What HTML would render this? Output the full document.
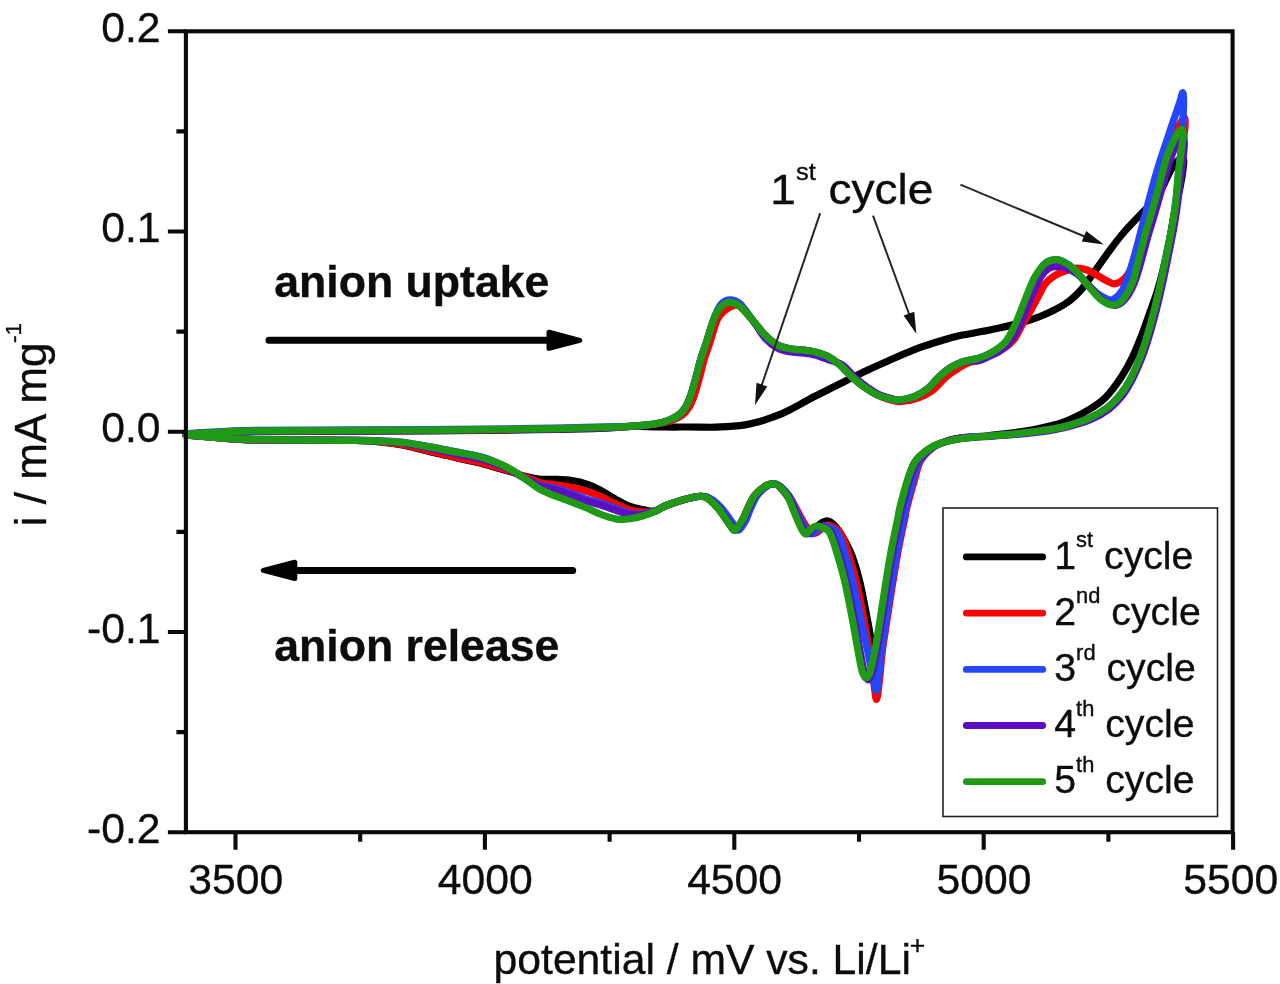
<!DOCTYPE html>
<html lang="en"><head><meta charset="utf-8"><title>Cyclic voltammogram</title>
<style>html,body{margin:0;padding:0;background:#fff}body{width:1280px;height:984px;overflow:hidden}svg{display:block}text{font-family:"Liberation Sans",sans-serif;fill:#0c0c0c;stroke:#0c0c0c;stroke-width:.35px}</style></head><body>
<svg width="1280" height="984" viewBox="0 0 1280 984">
<rect width="1280" height="984" fill="#fff"/>
<g fill="none" stroke-width="7.2" stroke-linejoin="round" stroke-linecap="round">
<path stroke="#000000" d="M186.0 435.3C188.3 435.1 194.3 434.4 200.0 434.0C205.7 433.6 210.8 433.4 220.0 433.0C229.2 432.6 232.5 432.0 255.0 431.7C277.5 431.4 325.8 431.3 355.0 431.2C384.2 431.1 409.2 431.0 430.0 430.9C450.8 430.8 459.2 430.7 480.0 430.4C500.8 430.2 534.2 429.8 555.0 429.4C575.8 429.0 592.5 428.7 605.0 428.2C617.5 427.7 624.2 426.6 630.0 426.3C635.8 426.0 634.2 426.4 640.0 426.5C645.8 426.6 656.7 426.9 665.0 427.0C673.3 427.1 681.7 427.0 690.0 427.0C698.3 427.0 706.7 427.4 715.0 427.2C723.3 427.0 733.8 426.2 740.0 425.6C746.2 425.0 748.3 424.3 752.5 423.3C756.7 422.3 760.4 421.3 765.0 419.8C769.6 418.3 775.8 416.1 780.0 414.4C784.2 412.7 784.2 412.8 790.0 409.8C795.8 406.8 806.7 400.6 815.0 396.3C823.3 392.0 831.7 388.0 840.0 383.8C848.3 379.6 856.7 375.3 865.0 371.3C873.3 367.3 881.7 363.7 890.0 360.0C898.3 356.3 906.7 352.5 915.0 349.3C923.3 346.1 932.5 343.3 940.0 341.0C947.5 338.7 951.7 337.3 960.0 335.5C968.3 333.7 980.8 331.9 990.0 330.0C999.2 328.1 1006.7 326.6 1015.0 324.3C1023.3 322.1 1031.7 319.9 1040.0 316.5C1048.3 313.1 1058.3 308.2 1065.0 304.0C1071.7 299.8 1075.0 296.5 1080.0 291.0C1085.0 285.5 1090.0 277.8 1095.0 271.0C1100.0 264.2 1105.0 256.7 1110.0 250.0C1115.0 243.3 1120.0 236.8 1125.0 231.0C1130.0 225.2 1136.2 218.9 1140.0 215.0C1143.8 211.1 1145.2 210.0 1147.5 207.5C1149.8 205.0 1151.9 202.6 1154.0 200.0C1156.1 197.4 1158.0 195.3 1160.0 192.0C1162.0 188.7 1164.0 184.0 1166.0 180.0C1168.0 176.0 1170.0 171.2 1172.0 168.0C1174.0 164.8 1176.2 162.1 1178.0 160.5C1179.8 158.9 1182.1 157.8 1183.0 158.5C1183.9 159.2 1183.9 160.6 1183.5 165.0C1183.1 169.4 1181.9 177.5 1180.5 185.0C1179.1 192.5 1176.8 200.8 1175.0 210.0C1173.2 219.2 1171.5 230.0 1169.5 240.0C1167.5 250.0 1165.1 261.3 1163.0 270.0C1160.9 278.7 1159.2 285.0 1157.0 292.0C1154.8 299.0 1152.4 305.2 1150.0 312.0C1147.6 318.8 1145.4 325.5 1142.5 333.0C1139.6 340.5 1135.9 349.8 1132.5 357.0C1129.1 364.2 1126.4 369.3 1122.0 376.0C1117.6 382.7 1111.3 391.5 1106.0 397.0C1100.7 402.5 1096.8 404.9 1090.0 409.0C1083.2 413.1 1073.3 418.3 1065.0 421.5C1056.7 424.7 1048.3 426.4 1040.0 428.3C1031.7 430.2 1023.3 431.4 1015.0 432.6C1006.7 433.8 999.2 434.5 990.0 435.5C980.8 436.5 968.3 437.5 960.0 438.8C951.7 440.1 945.4 441.6 940.0 443.5C934.6 445.4 931.7 446.9 927.5 450.0C923.3 453.1 918.2 457.0 915.0 462.0C911.8 467.0 910.1 472.5 908.0 480.0C905.9 487.5 903.8 500.3 902.5 507.0C901.2 513.7 901.8 512.8 900.5 520.0C899.2 527.2 896.9 538.8 895.0 550.0C893.1 561.2 890.8 575.8 889.0 587.5C887.2 599.2 885.8 609.6 884.5 620.0C883.2 630.4 882.2 642.7 881.0 650.0C879.8 657.3 878.8 664.0 877.5 664.0C876.2 664.0 874.7 657.3 873.0 650.0C871.3 642.7 869.7 631.2 867.5 620.0C865.3 608.8 862.5 593.0 860.0 582.5C857.5 572.0 855.0 563.9 852.5 557.0C850.0 550.1 847.8 546.0 845.0 541.0C842.2 536.0 838.8 530.3 836.0 527.0C833.2 523.7 830.7 521.5 828.0 521.0C825.3 520.5 822.5 522.3 820.0 524.0C817.5 525.7 815.0 530.2 813.0 531.0C811.0 531.8 810.2 531.2 808.0 529.0C805.8 526.8 803.0 522.8 800.0 518.0C797.0 513.2 793.3 505.2 790.0 500.0C786.7 494.8 782.5 489.7 780.0 487.0C777.5 484.3 777.1 484.3 775.0 484.0C772.9 483.7 770.8 483.2 767.5 485.0C764.2 486.8 758.4 490.8 755.0 495.0C751.6 499.2 749.1 505.8 747.0 510.0C744.9 514.2 744.5 516.7 742.5 520.0C740.5 523.3 737.1 529.2 735.0 530.0C732.9 530.8 732.9 528.8 730.0 525.0C727.1 521.2 721.7 512.2 717.5 507.5C713.3 502.8 709.2 498.7 705.0 497.0C700.8 495.3 698.8 496.2 692.5 497.5C686.2 498.8 673.8 502.8 667.5 505.0C661.2 507.2 659.2 510.2 655.0 511.0C650.8 511.8 646.7 510.2 642.5 509.5C638.3 508.8 634.1 508.0 630.0 506.5C625.9 505.0 623.0 503.2 618.0 500.5C613.0 497.8 605.1 492.7 600.0 490.0C594.9 487.3 592.2 485.9 587.5 484.3C582.8 482.7 577.2 481.3 572.0 480.5C566.8 479.7 561.2 479.5 556.0 479.3C550.8 479.1 545.8 479.8 540.6 479.3C535.4 478.8 530.2 477.6 525.0 476.3C519.8 475.0 514.6 472.8 509.4 471.3C504.2 469.7 498.7 468.4 493.8 467.0C488.9 465.6 485.2 464.2 480.0 462.9C474.8 461.7 468.0 460.5 462.5 459.3C457.0 458.1 452.4 456.8 447.0 455.6C441.6 454.3 437.0 453.4 430.0 451.7C423.0 450.0 413.3 447.0 405.0 445.4C396.7 443.8 388.3 442.7 380.0 441.9C371.7 441.1 375.8 440.9 355.0 440.5C334.2 440.2 277.5 440.4 255.0 439.9C232.5 439.5 231.5 438.7 220.0 437.9C208.5 437.1 191.7 435.5 186.0 435.0"/>
<path stroke="#fe0000" d="M186.0 434.8C188.3 434.6 194.3 433.9 200.0 433.5C205.7 433.1 210.8 432.9 220.0 432.5C229.2 432.1 232.5 431.5 255.0 431.2C277.5 430.9 325.8 430.8 355.0 430.7C384.2 430.6 409.2 430.5 430.0 430.4C450.8 430.3 459.2 430.2 480.0 429.9C500.8 429.7 534.2 429.3 555.0 428.9C575.8 428.5 592.5 428.1 605.0 427.7C617.5 427.3 623.1 426.7 630.0 426.3C636.9 425.9 641.4 425.7 646.4 425.2C651.3 424.7 655.3 424.3 659.4 423.5C663.6 422.7 667.7 421.8 671.4 420.5C675.1 419.2 678.7 417.6 681.6 415.5C684.5 413.4 686.5 411.2 688.6 408.0C690.7 404.8 692.4 400.8 694.1 396.0C695.9 391.2 697.4 385.0 699.1 379.0C700.8 373.0 702.3 366.2 704.1 360.0C705.9 353.8 707.9 348.7 710.1 342.0C712.3 335.3 714.8 325.2 717.1 320.0C719.4 314.8 721.4 313.4 724.1 311.0C726.8 308.6 730.4 306.6 733.1 305.8C735.8 305.0 736.9 303.9 740.1 306.3C743.3 308.7 748.4 315.2 752.5 320.0C756.6 324.8 760.8 330.8 765.0 335.0C769.2 339.2 773.3 342.7 777.5 345.0C781.7 347.3 785.8 348.0 790.0 348.8C794.2 349.6 798.3 349.5 802.5 350.0C806.7 350.5 810.8 350.9 815.0 352.0C819.2 353.1 823.3 354.1 827.5 356.3C831.7 358.5 835.8 361.5 840.0 365.0C844.2 368.5 848.3 373.8 852.5 377.5C856.7 381.2 860.8 384.6 865.0 387.5C869.2 390.4 873.3 392.9 877.5 395.0C881.7 397.1 886.0 398.7 890.0 399.8C894.0 400.9 896.6 401.8 901.4 401.5C906.1 401.2 913.2 399.7 918.4 397.8C923.7 395.9 928.1 393.7 932.7 390.3C937.2 386.9 941.8 380.8 945.5 377.5C949.2 374.2 951.2 372.9 955.0 370.5C958.8 368.1 963.8 364.8 968.0 363.0C972.2 361.2 976.0 360.9 980.0 359.5C984.0 358.1 988.0 356.2 992.0 354.3C996.0 352.4 1000.3 350.8 1004.0 348.3C1007.7 345.9 1011.0 343.4 1014.0 339.6C1017.0 335.8 1019.2 330.1 1022.0 325.3C1024.8 320.5 1027.8 315.7 1030.5 311.0C1033.2 306.3 1035.5 301.6 1038.0 297.0C1040.5 292.4 1042.7 287.1 1045.5 283.5C1048.3 279.9 1051.6 277.7 1055.0 275.5C1058.4 273.3 1062.3 271.8 1066.0 270.5C1069.7 269.2 1073.5 268.1 1077.0 268.0C1080.5 267.9 1084.0 269.0 1087.0 270.0C1090.0 271.0 1091.7 272.2 1095.0 274.0C1098.3 275.8 1103.7 279.4 1107.0 281.0C1110.3 282.6 1112.0 284.3 1115.0 283.8C1118.0 283.3 1122.0 281.1 1125.0 278.0C1128.0 274.9 1130.6 270.5 1133.0 265.0C1135.4 259.5 1137.3 252.2 1139.5 245.0C1141.7 237.8 1143.8 230.3 1146.0 222.0C1148.2 213.7 1150.5 204.2 1153.0 195.0C1155.5 185.8 1158.1 176.0 1161.0 167.0C1163.9 158.0 1167.4 148.1 1170.5 141.0C1173.6 133.9 1177.2 128.4 1179.5 124.5C1181.8 120.6 1183.4 117.5 1184.3 117.8C1185.2 118.0 1185.3 121.1 1185.0 126.0C1184.7 130.9 1183.6 139.0 1182.6 147.0C1181.6 155.0 1180.0 165.0 1179.0 173.8C1178.0 182.6 1177.5 191.6 1176.5 200.0C1175.5 208.4 1174.4 215.7 1173.0 224.0C1171.6 232.3 1169.9 240.7 1168.0 250.0C1166.1 259.3 1163.9 270.4 1161.8 280.0C1159.7 289.6 1157.8 298.3 1155.5 307.5C1153.2 316.7 1150.5 326.7 1148.0 335.0C1145.5 343.3 1143.4 350.0 1140.5 357.5C1137.6 365.0 1133.8 373.8 1130.5 380.0C1127.2 386.2 1124.2 390.4 1120.5 395.0C1116.8 399.6 1113.1 403.7 1108.0 407.5C1102.9 411.3 1097.2 414.8 1090.0 418.0C1082.8 421.2 1073.3 424.3 1065.0 426.5C1056.7 428.7 1048.3 429.8 1040.0 431.0C1031.7 432.2 1023.3 433.2 1015.0 434.0C1006.7 434.8 999.2 435.3 990.0 436.0C980.8 436.7 968.3 436.8 960.0 438.0C951.7 439.2 945.0 441.5 940.0 443.5C935.0 445.5 933.3 446.9 930.0 450.0C926.7 453.1 922.6 457.0 920.0 462.0C917.4 467.0 916.7 472.5 914.5 480.0C912.3 487.5 908.7 500.3 907.0 507.0C905.3 513.7 906.0 512.8 904.5 520.0C903.0 527.2 900.4 538.8 898.3 550.0C896.2 561.2 893.9 575.8 892.0 587.5C890.1 599.2 888.6 609.6 887.0 620.0C885.4 630.4 883.8 640.0 882.5 650.0C881.2 660.0 880.5 671.8 879.5 680.0C878.5 688.2 877.5 699.5 876.5 699.5C875.5 699.5 874.6 687.4 873.5 680.0C872.4 672.6 871.6 665.0 870.0 655.0C868.4 645.0 866.2 632.1 864.0 620.0C861.8 607.9 859.0 593.3 856.5 582.5C854.0 571.7 851.2 562.4 849.0 555.0C846.8 547.6 844.8 542.2 843.0 538.0C841.2 533.8 840.7 532.2 838.0 530.0C835.3 527.8 830.0 525.0 827.0 525.0C824.0 525.0 822.2 528.6 820.0 530.0C817.8 531.4 816.3 534.2 814.0 533.5C811.7 532.8 809.0 530.2 806.0 526.0C803.0 521.8 798.8 513.0 796.0 508.0C793.2 503.0 791.7 499.5 789.0 496.0C786.3 492.5 782.3 489.0 780.0 487.0C777.7 485.0 777.1 484.3 775.0 484.0C772.9 483.7 770.8 483.2 767.5 485.0C764.2 486.8 758.4 490.8 755.0 495.0C751.6 499.2 749.1 505.8 747.0 510.0C744.9 514.2 744.4 516.7 742.5 520.0C740.6 523.3 737.5 529.2 735.5 530.0C733.5 530.8 733.5 528.8 730.5 525.0C727.5 521.2 721.8 512.2 717.5 507.5C713.2 502.8 709.2 498.7 705.0 497.0C700.8 495.3 698.8 496.2 692.5 497.5C686.2 498.8 673.8 502.8 667.5 505.0C661.2 507.2 659.2 509.8 655.0 511.0C650.8 512.2 646.7 512.2 642.5 512.0C638.3 511.8 634.1 511.2 630.0 510.0C625.9 508.8 623.0 507.3 618.0 505.0C613.0 502.7 605.1 498.6 600.0 496.3C594.9 494.1 592.2 493.0 587.5 491.5C582.8 490.0 577.2 488.6 572.0 487.5C566.8 486.4 561.2 485.6 556.0 484.8C550.8 484.0 545.8 484.0 540.6 482.7C535.4 481.4 530.2 478.8 525.0 476.8C519.8 474.8 514.6 472.4 509.4 470.7C504.2 469.0 498.7 467.8 493.8 466.4C488.9 465.0 485.2 463.7 480.0 462.4C474.8 461.1 468.0 460.0 462.5 458.7C457.0 457.5 452.4 456.3 447.0 455.0C441.6 453.7 437.0 452.8 430.0 451.1C423.0 449.5 413.3 446.5 405.0 445.0C396.7 443.4 388.3 442.5 380.0 441.8C371.7 441.0 375.8 440.9 355.0 440.5C334.2 440.2 277.5 440.4 255.0 439.9C232.5 439.5 231.5 438.7 220.0 437.9C208.5 437.1 191.7 435.5 186.0 435.0"/>
<path stroke="#2346ff" d="M186.0 434.0C188.3 433.8 194.3 433.1 200.0 432.7C205.7 432.3 210.8 432.1 220.0 431.7C229.2 431.3 232.5 430.7 255.0 430.4C277.5 430.1 325.8 430.0 355.0 429.9C384.2 429.8 409.2 429.7 430.0 429.6C450.8 429.5 459.2 429.4 480.0 429.1C500.8 428.9 534.2 428.5 555.0 428.1C575.8 427.7 592.5 427.2 605.0 426.9C617.5 426.6 623.3 426.6 630.0 426.3C636.7 426.0 640.5 425.7 645.0 425.2C649.5 424.7 653.2 424.3 657.0 423.5C660.8 422.7 664.5 421.8 668.0 420.5C671.5 419.2 675.2 417.6 678.0 415.5C680.8 413.4 682.9 411.2 685.0 408.0C687.1 404.8 688.8 400.8 690.5 396.0C692.2 391.2 693.8 385.0 695.5 379.0C697.2 373.0 698.7 366.2 700.5 360.0C702.3 353.8 704.3 348.7 706.5 342.0C708.7 335.3 711.2 326.2 713.5 320.0C715.8 313.8 717.8 308.4 720.5 305.0C723.2 301.6 726.2 300.0 729.5 299.8C732.8 299.6 736.2 300.4 740.0 303.8C743.8 307.2 748.3 314.8 752.5 320.0C756.7 325.2 760.8 330.8 765.0 335.0C769.2 339.2 773.3 342.7 777.5 345.0C781.7 347.3 785.8 348.0 790.0 348.8C794.2 349.6 798.3 349.5 802.5 350.0C806.7 350.5 810.8 350.9 815.0 352.0C819.2 353.1 823.3 354.1 827.5 356.3C831.7 358.5 835.8 361.5 840.0 365.0C844.2 368.5 848.3 373.8 852.5 377.5C856.7 381.2 860.8 384.6 865.0 387.5C869.2 390.4 873.3 393.1 877.5 395.0C881.7 396.9 886.2 398.0 890.0 398.8C893.8 399.6 895.8 400.4 900.0 400.0C904.2 399.6 910.4 398.2 915.0 396.3C919.6 394.4 923.3 392.2 927.5 388.8C931.7 385.4 935.8 379.7 940.0 376.0C944.2 372.3 948.3 368.9 952.5 366.5C956.7 364.1 960.8 362.6 965.0 361.3C969.2 360.0 973.3 359.8 977.5 358.5C981.7 357.2 985.1 356.2 990.0 353.5C994.9 350.8 1002.5 347.2 1007.0 342.5C1011.5 337.8 1013.7 332.1 1017.0 325.0C1020.3 317.9 1023.8 307.9 1027.0 300.0C1030.2 292.1 1033.8 283.3 1036.5 277.5C1039.2 271.7 1040.8 267.9 1043.5 265.0C1046.2 262.1 1049.3 260.6 1052.5 260.0C1055.7 259.4 1058.8 259.6 1062.5 261.3C1066.2 263.0 1070.8 266.1 1075.0 270.0C1079.2 273.9 1083.7 281.0 1087.5 285.0C1091.3 289.0 1094.6 291.6 1098.0 294.0C1101.4 296.4 1105.3 298.7 1108.0 299.5C1110.7 300.3 1111.6 300.6 1114.0 299.0C1116.4 297.4 1119.9 294.5 1122.5 290.0C1125.1 285.5 1127.2 278.7 1129.5 272.0C1131.8 265.3 1133.8 257.8 1136.0 250.0C1138.2 242.2 1140.3 233.3 1142.5 225.0C1144.7 216.7 1146.8 208.2 1149.0 200.0C1151.2 191.8 1153.2 184.0 1155.5 176.0C1157.8 168.0 1160.2 160.5 1163.0 152.0C1165.8 143.5 1169.2 133.4 1172.0 125.0C1174.8 116.6 1178.2 106.9 1180.0 101.5C1181.8 96.1 1181.9 93.0 1182.5 92.8C1183.1 92.5 1183.5 95.5 1183.6 100.0C1183.7 104.5 1183.3 112.5 1183.0 120.0C1182.7 127.5 1182.4 136.0 1181.6 145.0C1180.8 154.0 1179.3 164.6 1178.4 173.8C1177.5 183.0 1177.0 191.6 1176.0 200.0C1175.0 208.4 1173.9 215.7 1172.5 224.0C1171.1 232.3 1169.4 240.7 1167.5 250.0C1165.6 259.3 1163.4 270.4 1161.3 280.0C1159.2 289.6 1157.3 298.3 1155.0 307.5C1152.7 316.7 1150.0 326.7 1147.5 335.0C1145.0 343.3 1142.9 350.0 1140.0 357.5C1137.1 365.0 1133.3 373.8 1130.0 380.0C1126.7 386.2 1123.8 390.4 1120.0 395.0C1116.2 399.6 1112.5 403.7 1107.5 407.5C1102.5 411.3 1097.1 414.8 1090.0 418.0C1082.9 421.2 1073.3 424.3 1065.0 426.5C1056.7 428.7 1048.3 429.8 1040.0 431.0C1031.7 432.2 1023.3 433.2 1015.0 434.0C1006.7 434.8 999.2 435.3 990.0 436.0C980.8 436.7 968.3 436.8 960.0 438.0C951.7 439.2 945.1 441.5 940.0 443.5C934.9 445.5 933.0 446.9 929.5 450.0C926.0 453.1 921.8 457.0 919.0 462.0C916.2 467.0 915.2 472.5 913.0 480.0C910.8 487.5 907.6 500.3 906.0 507.0C904.4 513.7 905.0 512.8 903.5 520.0C902.0 527.2 899.4 538.8 897.3 550.0C895.2 561.2 892.9 575.8 891.0 587.5C889.1 599.2 887.6 609.6 886.0 620.0C884.4 630.4 882.8 640.3 881.5 650.0C880.2 659.7 879.4 671.2 878.5 678.0C877.6 684.8 877.2 690.5 876.3 690.5C875.4 690.5 874.3 683.9 873.0 678.0C871.7 672.1 870.5 664.7 868.5 655.0C866.5 645.3 863.6 632.1 861.0 620.0C858.4 607.9 855.6 593.3 853.0 582.5C850.4 571.7 847.7 562.4 845.5 555.0C843.3 547.6 841.8 542.2 840.0 538.0C838.2 533.8 837.8 532.0 835.0 530.0C832.2 528.0 826.0 526.0 823.0 526.0C820.0 526.0 819.0 528.7 817.0 530.0C815.0 531.3 813.2 534.5 811.0 533.8C808.8 533.1 806.7 530.3 804.0 526.0C801.3 521.7 797.5 513.0 795.0 508.0C792.5 503.0 791.3 499.5 789.0 496.0C786.7 492.5 783.2 489.0 781.0 487.0C778.8 485.0 778.0 484.3 776.0 484.0C774.0 483.7 772.1 483.2 769.0 485.0C765.9 486.8 760.7 490.8 757.5 495.0C754.3 499.2 751.9 505.8 750.0 510.0C748.1 514.2 747.8 516.7 746.0 520.0C744.2 523.3 741.0 529.2 739.0 530.0C737.0 530.8 737.0 528.8 734.0 525.0C731.0 521.2 725.5 512.2 721.0 507.5C716.5 502.8 711.7 498.7 707.0 497.0C702.3 495.3 699.6 496.2 693.0 497.5C686.4 498.8 673.8 502.7 667.5 505.0C661.2 507.3 659.2 509.7 655.0 511.2C650.8 512.7 646.7 513.6 642.5 514.0C638.3 514.4 634.1 514.2 630.0 513.5C625.9 512.8 623.0 511.2 618.0 509.5C613.0 507.8 605.1 504.7 600.0 503.0C594.9 501.3 592.2 501.0 587.5 499.5C582.8 498.0 577.2 495.6 572.0 493.8C566.8 492.0 561.2 489.9 556.0 488.5C550.8 487.1 545.8 487.1 540.6 485.5C535.4 483.9 530.2 481.4 525.0 478.6C519.8 475.8 514.6 471.7 509.4 468.8C504.2 465.9 498.7 463.3 493.8 461.3C488.9 459.3 486.5 458.2 480.0 456.6C473.5 455.0 463.3 453.2 455.0 451.6C446.7 450.0 438.3 448.3 430.0 446.8C421.7 445.3 413.3 443.5 405.0 442.5C396.7 441.5 388.3 441.3 380.0 440.9C371.7 440.5 375.8 440.3 355.0 440.1C334.2 439.8 277.5 439.8 255.0 439.4C232.5 439.0 231.5 438.3 220.0 437.5C208.5 436.7 191.7 435.2 186.0 434.7"/>
<path stroke="#5b0ec2" d="M186.0 434.9C188.3 434.7 194.3 434.0 200.0 433.6C205.7 433.2 210.8 433.0 220.0 432.6C229.2 432.2 232.5 431.6 255.0 431.3C277.5 431.0 325.8 430.9 355.0 430.8C384.2 430.7 409.2 430.6 430.0 430.5C450.8 430.4 459.2 430.2 480.0 430.0C500.8 429.8 534.2 429.4 555.0 429.0C575.8 428.6 592.5 428.2 605.0 427.8C617.5 427.3 623.3 426.7 630.0 426.3C636.7 425.9 640.5 425.7 645.0 425.2C649.5 424.7 653.2 424.3 657.0 423.5C660.8 422.7 664.5 421.8 668.0 420.5C671.5 419.2 675.2 417.6 678.0 415.5C680.8 413.4 682.9 411.2 685.0 408.0C687.1 404.8 688.8 400.8 690.5 396.0C692.2 391.2 693.8 385.0 695.5 379.0C697.2 373.0 698.7 366.2 700.5 360.0C702.3 353.8 704.3 348.7 706.5 342.0C708.7 335.3 711.2 325.8 713.5 320.0C715.8 314.2 717.8 310.4 720.5 307.5C723.2 304.6 726.2 302.5 729.5 302.3C732.8 302.1 736.2 303.4 740.0 306.3C743.8 309.2 748.3 314.7 752.5 320.0C756.7 325.3 760.8 333.3 765.0 338.0C769.2 342.7 773.3 345.7 777.5 348.0C781.7 350.3 785.8 351.0 790.0 351.8C794.2 352.6 798.3 352.5 802.5 353.0C806.7 353.5 810.8 353.9 815.0 355.0C819.2 356.1 822.9 357.6 827.5 359.3C832.1 361.0 837.9 362.0 842.5 365.0C847.1 368.0 850.8 373.8 855.0 377.5C859.2 381.2 863.3 384.6 867.5 387.5C871.7 390.4 875.8 393.1 880.0 395.0C884.2 396.9 888.8 398.0 892.5 398.8C896.2 399.6 898.8 400.4 902.5 400.0C906.2 399.6 910.8 398.2 915.0 396.3C919.2 394.4 923.3 392.2 927.5 388.8C931.7 385.4 935.8 379.7 940.0 376.0C944.2 372.3 948.3 368.9 952.5 366.5C956.7 364.1 960.8 362.2 965.0 361.3C969.2 360.4 973.3 361.9 977.5 361.0C981.7 360.1 986.2 357.7 990.0 356.0C993.8 354.3 996.8 353.2 1000.0 351.0C1003.2 348.8 1006.2 346.8 1009.5 342.5C1012.8 338.2 1016.6 332.1 1020.0 325.0C1023.4 317.9 1026.6 307.9 1030.0 300.0C1033.4 292.1 1037.4 282.8 1040.5 277.5C1043.6 272.2 1045.8 270.3 1048.5 268.5C1051.2 266.7 1054.1 266.6 1057.0 266.5C1059.9 266.4 1062.7 266.8 1066.0 268.0C1069.3 269.2 1073.1 271.0 1077.0 274.0C1080.9 277.0 1085.3 281.8 1089.5 286.0C1093.7 290.2 1097.8 296.3 1102.0 299.5C1106.2 302.7 1110.8 305.2 1114.5 305.3C1118.2 305.4 1121.2 303.8 1124.5 300.0C1127.8 296.2 1131.7 289.2 1134.5 282.5C1137.3 275.8 1139.2 267.9 1141.5 260.0C1143.8 252.1 1146.3 242.0 1148.3 235.0C1150.3 228.0 1151.3 225.5 1153.5 218.0C1155.7 210.5 1158.8 199.7 1161.5 190.0C1164.2 180.3 1167.3 167.8 1170.0 160.0C1172.7 152.2 1175.4 146.8 1177.5 143.0C1179.6 139.2 1181.4 137.2 1182.5 137.0C1183.6 136.8 1184.2 138.2 1184.3 142.0C1184.4 145.8 1183.7 153.7 1183.0 160.0C1182.3 166.3 1181.2 173.3 1180.4 180.0C1179.6 186.7 1179.0 192.7 1178.0 200.0C1177.0 207.3 1175.9 215.7 1174.5 224.0C1173.1 232.3 1171.4 240.7 1169.5 250.0C1167.6 259.3 1165.4 270.4 1163.3 280.0C1161.2 289.6 1159.3 298.3 1157.0 307.5C1154.7 316.7 1152.0 326.7 1149.5 335.0C1147.0 343.3 1144.9 350.0 1142.0 357.5C1139.1 365.0 1135.3 373.6 1132.0 380.0C1128.7 386.4 1125.8 391.2 1122.0 396.0C1118.2 400.8 1114.2 405.1 1109.0 409.0C1103.8 412.9 1098.3 416.4 1091.0 419.5C1083.7 422.6 1073.5 425.4 1065.0 427.5C1056.5 429.6 1048.3 430.8 1040.0 432.0C1031.7 433.2 1023.3 433.8 1015.0 434.5C1006.7 435.2 999.2 435.7 990.0 436.3C980.8 436.9 968.3 436.8 960.0 438.0C951.7 439.2 945.2 441.5 940.0 443.5C934.8 445.5 932.8 446.9 929.0 450.0C925.2 453.1 920.2 457.0 917.0 462.0C913.8 467.0 912.0 472.5 909.5 480.0C907.0 487.5 903.7 500.3 902.0 507.0C900.3 513.7 901.0 512.8 899.5 520.0C898.0 527.2 895.4 538.8 893.3 550.0C891.2 561.2 888.9 575.8 887.0 587.5C885.1 599.2 883.7 609.6 882.0 620.0C880.3 630.4 878.7 641.1 877.0 650.0C875.3 658.9 873.5 668.5 872.0 673.5C870.5 678.5 869.5 680.0 868.3 680.0C867.0 680.0 865.8 677.7 864.5 673.5C863.2 669.3 862.5 663.9 860.8 655.0C859.1 646.1 856.8 632.1 854.5 620.0C852.2 607.9 849.5 593.3 847.0 582.5C844.5 571.7 841.7 562.4 839.5 555.0C837.3 547.6 835.7 542.2 834.0 538.0C832.3 533.8 832.2 532.0 829.5 530.0C826.8 528.0 820.9 526.0 818.0 526.0C815.1 526.0 813.8 528.7 812.0 530.0C810.2 531.3 808.7 534.5 807.0 533.8C805.3 533.1 804.2 530.3 802.0 526.0C799.8 521.7 796.2 513.0 794.0 508.0C791.8 503.0 790.8 499.5 788.5 496.0C786.2 492.5 782.7 489.0 780.5 487.0C778.3 485.0 777.6 484.3 775.5 484.0C773.4 483.7 771.2 483.2 768.0 485.0C764.8 486.8 759.3 490.8 756.0 495.0C752.7 499.2 750.1 505.8 748.0 510.0C745.9 514.2 745.5 516.7 743.5 520.0C741.5 523.3 738.1 529.2 736.0 530.0C733.9 530.8 733.9 528.8 731.0 525.0C728.1 521.2 722.8 512.2 718.5 507.5C714.2 502.8 709.8 498.7 705.5 497.0C701.2 495.3 698.8 496.2 692.5 497.5C686.2 498.8 673.8 502.7 667.5 505.0C661.2 507.3 659.2 509.7 655.0 511.3C650.8 512.9 646.7 514.0 642.5 514.5C638.3 515.0 634.1 515.1 630.0 514.5C625.9 513.9 623.0 512.6 618.0 511.0C613.0 509.4 605.1 506.4 600.0 504.8C594.9 503.2 592.2 502.9 587.5 501.4C582.8 499.8 577.2 497.4 572.0 495.5C566.8 493.6 561.2 491.6 556.0 490.0C550.8 488.4 545.8 488.0 540.6 486.0C535.4 484.0 530.2 480.9 525.0 478.2C519.8 475.5 514.6 472.1 509.4 469.6C504.2 467.1 498.7 465.1 493.8 463.3C488.9 461.5 485.2 460.1 480.0 458.8C474.8 457.4 468.0 456.4 462.5 455.3C457.0 454.2 452.4 453.3 447.0 452.1C441.6 451.0 437.0 449.8 430.0 448.3C423.0 446.9 413.3 444.7 405.0 443.5C396.7 442.4 388.3 441.9 380.0 441.4C371.7 440.9 375.8 440.7 355.0 440.4C334.2 440.1 277.5 440.2 255.0 439.8C232.5 439.3 231.5 438.6 220.0 437.8C208.5 437.0 191.7 435.5 186.0 435.0"/>
<path stroke="#1f9a14" d="M186.0 434.5C188.3 434.3 194.3 433.6 200.0 433.2C205.7 432.8 210.8 432.6 220.0 432.2C229.2 431.8 232.5 431.2 255.0 430.9C277.5 430.6 325.8 430.5 355.0 430.4C384.2 430.3 409.2 430.2 430.0 430.1C450.8 430.0 459.2 429.9 480.0 429.6C500.8 429.4 534.2 429.0 555.0 428.6C575.8 428.2 592.5 427.8 605.0 427.4C617.5 427.0 623.3 426.7 630.0 426.3C636.7 425.9 640.5 425.7 645.0 425.2C649.5 424.7 653.2 424.3 657.0 423.5C660.8 422.7 664.5 421.8 668.0 420.5C671.5 419.2 675.2 417.6 678.0 415.5C680.8 413.4 682.9 411.2 685.0 408.0C687.1 404.8 688.8 400.8 690.5 396.0C692.2 391.2 693.8 385.0 695.5 379.0C697.2 373.0 698.7 366.2 700.5 360.0C702.3 353.8 704.3 348.7 706.5 342.0C708.7 335.3 711.2 325.8 713.5 320.0C715.8 314.2 717.8 310.4 720.5 307.5C723.2 304.6 726.2 302.5 729.5 302.3C732.8 302.1 736.2 303.4 740.0 306.3C743.8 309.2 748.3 315.2 752.5 320.0C756.7 324.8 760.8 330.8 765.0 335.0C769.2 339.2 773.3 342.7 777.5 345.0C781.7 347.3 785.8 348.0 790.0 348.8C794.2 349.6 798.3 349.5 802.5 350.0C806.7 350.5 810.8 350.9 815.0 352.0C819.2 353.1 823.3 354.1 827.5 356.3C831.7 358.5 835.8 361.5 840.0 365.0C844.2 368.5 848.3 373.8 852.5 377.5C856.7 381.2 860.8 384.6 865.0 387.5C869.2 390.4 873.3 393.1 877.5 395.0C881.7 396.9 886.2 398.0 890.0 398.8C893.8 399.6 895.8 400.4 900.0 400.0C904.2 399.6 910.4 398.2 915.0 396.3C919.6 394.4 923.3 392.2 927.5 388.8C931.7 385.4 935.8 379.7 940.0 376.0C944.2 372.3 948.3 368.9 952.5 366.5C956.7 364.1 960.8 362.6 965.0 361.3C969.2 360.0 973.3 359.8 977.5 358.5C981.7 357.2 985.4 356.2 990.0 353.5C994.6 350.8 1000.8 347.2 1005.0 342.5C1009.2 337.8 1011.7 332.1 1015.0 325.0C1018.3 317.9 1021.8 307.9 1025.0 300.0C1028.2 292.1 1031.4 283.3 1034.5 277.5C1037.6 271.7 1040.5 267.9 1043.5 265.0C1046.5 262.1 1049.3 260.6 1052.5 260.0C1055.7 259.4 1058.8 259.6 1062.5 261.3C1066.2 263.0 1070.8 266.1 1075.0 270.0C1079.2 273.9 1083.3 280.2 1087.5 285.0C1091.7 289.8 1095.8 295.5 1100.0 298.8C1104.2 302.1 1108.8 304.8 1112.5 305.0C1116.2 305.2 1119.2 303.8 1122.5 300.0C1125.8 296.2 1129.8 289.2 1132.5 282.5C1135.2 275.8 1136.4 267.9 1138.5 260.0C1140.6 252.1 1143.1 242.0 1145.0 235.0C1146.9 228.0 1147.8 225.5 1150.0 218.0C1152.2 210.5 1155.2 200.1 1158.0 190.0C1160.8 179.9 1163.7 166.3 1166.6 157.5C1169.5 148.7 1173.0 141.7 1175.5 137.0C1178.0 132.3 1180.2 129.8 1181.5 129.5C1182.8 129.2 1183.2 132.1 1183.3 135.0C1183.3 137.9 1182.6 140.5 1181.8 147.0C1181.0 153.5 1179.4 165.0 1178.4 173.8C1177.4 182.6 1177.0 191.6 1176.0 200.0C1175.0 208.4 1173.9 215.7 1172.5 224.0C1171.1 232.3 1169.4 240.7 1167.5 250.0C1165.6 259.3 1163.4 270.4 1161.3 280.0C1159.2 289.6 1157.3 298.3 1155.0 307.5C1152.7 316.7 1150.0 326.7 1147.5 335.0C1145.0 343.3 1142.9 350.0 1140.0 357.5C1137.1 365.0 1133.3 373.8 1130.0 380.0C1126.7 386.2 1123.8 390.4 1120.0 395.0C1116.2 399.6 1112.5 403.7 1107.5 407.5C1102.5 411.3 1097.1 414.8 1090.0 418.0C1082.9 421.2 1073.3 424.3 1065.0 426.5C1056.7 428.7 1048.3 429.8 1040.0 431.0C1031.7 432.2 1023.3 433.2 1015.0 434.0C1006.7 434.8 999.2 435.2 990.0 436.0C980.8 436.8 968.3 437.6 960.0 438.8C951.7 440.1 945.4 441.6 940.0 443.5C934.6 445.4 931.7 446.9 927.5 450.0C923.3 453.1 918.3 457.0 915.0 462.0C911.7 467.0 910.0 472.5 907.5 480.0C905.0 487.5 901.7 500.3 900.0 507.0C898.3 513.7 899.0 512.8 897.5 520.0C896.0 527.2 893.4 538.8 891.3 550.0C889.2 561.2 886.9 575.8 885.0 587.5C883.1 599.2 881.7 609.6 880.0 620.0C878.3 630.4 876.7 641.2 875.0 650.0C873.3 658.8 871.5 667.8 870.0 672.5C868.5 677.2 867.5 678.0 866.3 678.0C865.0 678.0 863.8 676.3 862.5 672.5C861.2 668.7 860.5 663.8 858.8 655.0C857.1 646.2 854.8 632.1 852.5 620.0C850.2 607.9 847.5 593.3 845.0 582.5C842.5 571.7 839.7 562.4 837.5 555.0C835.3 547.6 833.7 542.2 832.0 538.0C830.3 533.8 830.2 532.0 827.5 530.0C824.8 528.0 818.9 526.0 816.0 526.0C813.1 526.0 811.8 528.7 810.0 530.0C808.2 531.3 806.7 534.5 805.0 533.8C803.3 533.1 802.1 530.3 800.0 526.0C797.9 521.7 794.6 513.0 792.5 508.0C790.4 503.0 789.6 499.5 787.5 496.0C785.4 492.5 782.1 489.0 780.0 487.0C777.9 485.0 777.1 484.3 775.0 484.0C772.9 483.7 770.8 483.2 767.5 485.0C764.2 486.8 758.4 490.8 755.0 495.0C751.6 499.2 749.1 505.8 747.0 510.0C744.9 514.2 744.5 516.7 742.5 520.0C740.5 523.3 737.1 529.2 735.0 530.0C732.9 530.8 732.9 528.8 730.0 525.0C727.1 521.2 721.7 512.2 717.5 507.5C713.3 502.8 709.2 498.7 705.0 497.0C700.8 495.3 698.8 496.2 692.5 497.5C686.2 498.8 673.8 502.7 667.5 505.0C661.2 507.3 659.2 509.7 655.0 511.5C650.8 513.3 646.7 514.8 642.5 516.0C638.3 517.2 633.8 518.2 630.0 518.8C626.2 519.4 623.3 519.7 620.0 519.5C616.7 519.3 613.3 518.4 610.0 517.5C606.7 516.6 603.8 515.5 600.0 514.0C596.2 512.5 592.2 510.3 587.5 508.3C582.8 506.3 577.2 504.2 572.0 502.2C566.8 500.2 561.2 498.3 556.0 496.2C550.8 494.1 545.8 492.6 540.6 489.7C535.4 486.8 530.2 482.3 525.0 478.8C519.8 475.3 514.6 471.5 509.4 468.6C504.2 465.7 498.7 463.6 493.8 461.6C488.9 459.7 486.5 458.5 480.0 456.9C473.5 455.3 463.3 453.5 455.0 451.9C446.7 450.3 438.3 448.6 430.0 447.1C421.7 445.6 413.3 443.8 405.0 442.8C396.7 441.8 388.3 441.6 380.0 441.2C371.7 440.8 375.8 440.6 355.0 440.4C334.2 440.1 277.5 440.1 255.0 439.7C232.5 439.3 231.5 438.6 220.0 437.8C208.5 437.0 191.7 435.5 186.0 435.0"/>
</g>
<g stroke="#0a0a0a" stroke-width="4.1" fill="none" stroke-linecap="butt">
<rect x="185.9" y="31.3" width="1046.7" height="800.9"/>
<path d="M235.5 832.2v17.5M484.9 832.2v17.5M734.3 832.2v17.5M983.7 832.2v17.5M1233.1 832.2v17.5M360.2 832.2v9.5M609.6 832.2v9.5M859.0 832.2v9.5M1108.4 832.2v9.5M185.9 832.2h-18M185.9 632.0h-18M185.9 431.8h-18M185.9 231.5h-18M185.9 31.3h-18M185.9 732.1h-9.5M185.9 531.9h-9.5M185.9 331.6h-9.5M185.9 131.4h-9.5"/>
</g>
<g font-size="42.67">
<text x="235.8" y="893.5" text-anchor="middle">3500</text>
<text x="485.2" y="893.5" text-anchor="middle">4000</text>
<text x="734.6" y="893.5" text-anchor="middle">4500</text>
<text x="984.0" y="893.5" text-anchor="middle">5000</text>
<text x="1230.7" y="893.5" text-anchor="middle">5500</text>
<text x="160.5" y="842.9" text-anchor="end">-0.2</text>
<text x="160.5" y="642.7" text-anchor="end">-0.1</text>
<text x="160.5" y="442.4" text-anchor="end">0.0</text>
<text x="160.5" y="242.2" text-anchor="end">0.1</text>
<text x="160.5" y="42.0" text-anchor="end">0.2</text>
</g>
<text x="493.6" y="974" font-size="42.67">potential / mV vs. Li/Li<tspan font-size="26.5" dy="-20.3" dx="-1.2">+</tspan></text>
<text transform="translate(45.7 526.2) rotate(-90)" font-size="44.1">i / mA mg<tspan font-size="22.5" dy="-24.9" dx="-0.5">-1</tspan></text>
<g font-size="43.5" font-weight="bold" stroke-width="0.2"><text transform="translate(274.2 296.6) scale(1.026 1)">anion uptake</text><text transform="translate(274.2 660.7) scale(1.026 1)">anion release</text></g>
<g stroke="#000" stroke-width="7" stroke-linecap="round" fill="none"><path d="M269 340.3H552M572.7 570.4H292"/></g>
<g fill="#000" stroke="#000" stroke-width="5" stroke-linejoin="round"><path d="M579.8 340.3L549 332.2V348.4Z"/><path d="M263.3 570.4L294.8 562.2V578.6Z"/></g>
<text transform="translate(770.3 204.1) scale(1.063 1)" font-size="43.3">1<tspan font-size="24" dy="-24">st</tspan><tspan dy="24"> cycle</tspan></text>
<path d="M820.2 213.1L761.3 386.5" stroke="#262626" stroke-width="2" fill="none"/><path d="M755.0 405.0L756.5 382.8L767.3 386.5Z" fill="#111"/>
<path d="M873.0 215.6L909.6 315.5" stroke="#262626" stroke-width="2" fill="none"/><path d="M916.3 333.8L903.6 315.6L914.3 311.7Z" fill="#111"/>
<path d="M960.4 184.7L1085.8 237.0" stroke="#262626" stroke-width="2" fill="none"/><path d="M1103.8 244.5L1081.8 241.5L1086.2 231.0Z" fill="#111"/>
<rect x="943" y="508" width="274.5" height="308.5" fill="#fff" stroke="#222" stroke-width="1.6"/>
<g stroke-width="6.8" stroke-linecap="round">
<path stroke="#000000" d="M966.3 556.9H1042.7"/>
<path stroke="#fe0000" d="M966.3 613.1H1042.7"/>
<path stroke="#2346ff" d="M966.3 669.4H1042.7"/>
<path stroke="#5b0ec2" d="M966.3 725.5H1042.7"/>
<path stroke="#1f9a14" d="M966.3 781.6H1042.7"/>
</g>
<g font-size="38.6">
<text transform="translate(1054.3 568.6) scale(1.017 1)">1<tspan font-size="21.5" dy="-21.5">st</tspan><tspan dy="21.5"> cycle</tspan></text>
<text transform="translate(1054.3 624.8) scale(1.017 1)">2<tspan font-size="21.5" dy="-21.5">nd</tspan><tspan dy="21.5"> cycle</tspan></text>
<text transform="translate(1054.3 681.1) scale(1.017 1)">3<tspan font-size="21.5" dy="-21.5">rd</tspan><tspan dy="21.5"> cycle</tspan></text>
<text transform="translate(1054.3 737.2) scale(1.017 1)">4<tspan font-size="21.5" dy="-21.5">th</tspan><tspan dy="21.5"> cycle</tspan></text>
<text transform="translate(1054.3 793.3) scale(1.017 1)">5<tspan font-size="21.5" dy="-21.5">th</tspan><tspan dy="21.5"> cycle</tspan></text>
</g>
</svg></body></html>
